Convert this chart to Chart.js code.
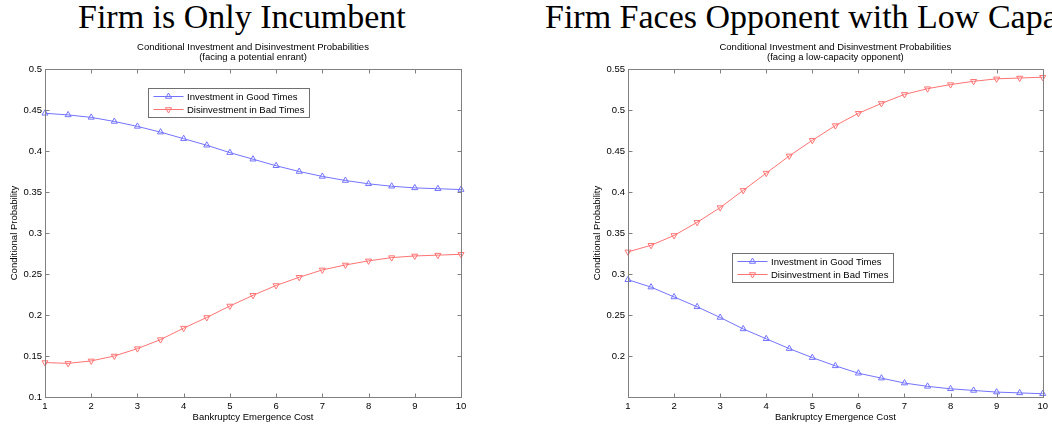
<!DOCTYPE html>
<html><head><meta charset="utf-8">
<script src="https://cdn.jsdelivr.net/npm/chart.js@4.4.1/dist/chart.umd.min.js"></script>
<style>
html,body{margin:0;padding:0;background:#fff;width:1052px;height:426px;overflow:hidden;position:relative}
.big{position:absolute;top:0;font-family:"Liberation Serif","Times New Roman",serif;font-size:34px;line-height:34px;white-space:nowrap;color:#000}
.wrap{position:absolute;top:0;height:426px}
canvas{display:block}
</style></head><body>
<div class="big" id="t1" style="left:78px"></div>
<div class="big" id="t2" style="left:545px"></div>
<div class="wrap" style="left:0;width:526px"><canvas id="c1" width="526" height="426"></canvas></div>
<div class="wrap" style="left:583px;width:469px"><canvas id="c2" width="469" height="426"></canvas></div>
<script>
// ---- data ----
const panelTitles = ['Firm is Only Incumbent', 'Firm Faces Opponent with Low Capacity'];
const chartTitle = 'Conditional Investment and Disinvestment Probabilities';
const subtitles = ['(facing a potential enrant)', '(facing a low-capacity opponent)'];
const seriesLabels = ['Investment in Good Times', 'Disinvestment in Bad Times'];
const xTitle = 'Bankruptcy Emergence Cost';
const yTitle = 'Conditional Probability';
const costs = [1, 1.5, 2, 2.5, 3, 3.5, 4, 4.5, 5, 5.5, 6, 6.5, 7, 7.5, 8, 8.5, 9, 9.5, 10];
const leftInvest = [0.446, 0.444, 0.441, 0.436, 0.430, 0.423, 0.415, 0.407, 0.398, 0.390, 0.382, 0.375, 0.369, 0.364, 0.360, 0.357, 0.355, 0.354, 0.353];
const leftDisinvest = [0.142, 0.141, 0.144, 0.150, 0.159, 0.170, 0.184, 0.197, 0.211, 0.224, 0.236, 0.246, 0.255, 0.261, 0.266, 0.270, 0.272, 0.273, 0.274];
const rightInvest = [0.293, 0.284, 0.272, 0.260, 0.247, 0.233, 0.221, 0.209, 0.198, 0.188, 0.179, 0.173, 0.167, 0.163, 0.160, 0.158, 0.156, 0.155, 0.154];
const rightDisinvest = [0.327, 0.335, 0.347, 0.363, 0.381, 0.402, 0.423, 0.444, 0.463, 0.481, 0.496, 0.508, 0.519, 0.526, 0.531, 0.535, 0.538, 0.539, 0.540];
const xTicks = [1, 2, 3, 4, 5, 6, 7, 8, 9, 10];
const leftYTicks = [0.1, 0.15, 0.2, 0.25, 0.3, 0.35, 0.4, 0.45, 0.5];
const rightYTicks = [0.2, 0.25, 0.3, 0.35, 0.4, 0.45, 0.5, 0.55];

document.getElementById('t1').textContent = panelTitles[0];
document.getElementById('t2').textContent = panelTitles[1];

const FONT = '"Liberation Sans", Arial, sans-serif';
const FS = 9.5;
const BLUE = '#7373ff';
const RED = '#ff7373';
const AXIS = '#808080';

function tri(ctx, x, y, r, rot) {
  let rad = rot * Math.PI / 180;
  ctx.beginPath();
  ctx.moveTo(x + Math.sin(rad) * r, y - Math.cos(rad) * r);
  rad += 2 * Math.PI / 3;
  ctx.lineTo(x + Math.sin(rad) * r, y - Math.cos(rad) * r);
  rad += 2 * Math.PI / 3;
  ctx.lineTo(x + Math.sin(rad) * r, y - Math.cos(rad) * r);
  ctx.closePath();
  ctx.stroke();
}

const matlabPlugin = {
  id: 'matlab',
  afterDatasetsDraw(chart) {
    const {ctx, chartArea: a, scales: {x, y}} = chart;
    ctx.save();
    ctx.strokeStyle = AXIS;
    ctx.lineWidth = 1;
    const L = Math.round(a.left) + 0.5, R = Math.round(a.right) + 0.5;
    const T = Math.round(a.top) + 0.5, B = Math.round(a.bottom) + 0.5;
    ctx.strokeRect(L, T, R - L, B - T);
    const tl = 4;
    ctx.beginPath();
    x.ticks.forEach(t => {
      const px = Math.round(x.getPixelForValue(t.value)) + 0.5;
      ctx.moveTo(px, B); ctx.lineTo(px, B - tl);
      ctx.moveTo(px, T); ctx.lineTo(px, T + tl);
    });
    y.ticks.forEach(t => {
      const py = Math.round(y.getPixelForValue(t.value)) + 0.5;
      ctx.moveTo(L, py); ctx.lineTo(L + tl, py);
      ctx.moveTo(R, py); ctx.lineTo(R - tl, py);
    });
    ctx.stroke();
    ctx.restore();
  },
  afterDraw(chart, args, opts) {
    const {ctx, chartArea: a} = chart;
    ctx.save();
    // small titles
    ctx.fillStyle = '#000';
    ctx.font = FS + 'px ' + FONT;
    ctx.textAlign = 'center';
    ctx.textBaseline = 'middle';
    const cx = (a.left + a.right) / 2;
    ctx.fillText(chartTitle, cx, a.top - 22);
    ctx.fillText(opts.subtitle, cx, a.top - 12);
    // legend inside axes
    const bx = Math.round(a.left + opts.lx) + 0.5, by = Math.round(a.top + opts.ly) + 0.5;
    const bw = 161, bh = 29;
    ctx.fillStyle = '#fff';
    ctx.fillRect(bx, by, bw, bh);
    ctx.strokeStyle = '#707070';
    ctx.lineWidth = 1;
    ctx.strokeRect(bx, by, bw, bh);
    chart.data.datasets.forEach((ds, i) => {
      const ry = by + 8 + i * 13;
      ctx.strokeStyle = ds.borderColor;
      ctx.beginPath();
      ctx.moveTo(bx + 5, ry); ctx.lineTo(bx + 35, ry);
      ctx.stroke();
      tri(ctx, bx + 20, ry, 3.5, ds.pointRotation || 0);
      ctx.fillStyle = '#000';
      ctx.textAlign = 'left';
      ctx.textBaseline = 'middle';
      ctx.fillText(ds.label, bx + 38.5, ry + 0.5);
    });
    ctx.restore();
  }
};

function makeChart(id, inv, dis, yMin, yMax, yTicks, subtitle, lx, ly, padRight) {
  const ds = (label, vals, color, rot) => ({
    label, data: costs.map((c, i) => ({x: c, y: vals[i]})),
    borderColor: color, backgroundColor: 'rgba(0,0,0,0)',
    pointStyle: 'triangle', pointRadius: 3.5, pointBorderWidth: 1,
    pointBorderColor: color, pointBackgroundColor: 'rgba(0,0,0,0)',
    pointRotation: rot, borderWidth: 1, tension: 0, clip: false
  });
  return new Chart(document.getElementById(id), {
    type: 'line',
    data: {datasets: [ds(seriesLabels[0], inv, BLUE, 0), ds(seriesLabels[1], dis, RED, 180)]},
    options: {
      responsive: false, animation: false, devicePixelRatio: 1,
      layout: {padding: {top: 69, right: padRight, left: 0, bottom: 0}},
      plugins: {legend: {display: false}, title: {display: false}, tooltip: {enabled: false},
        matlab: {subtitle, lx, ly}},
      scales: {
        x: {
          type: 'linear', min: 1, max: 10,
          afterBuildTicks: s => { s.ticks = xTicks.map(v => ({value: v})); },
          afterFit: s => { s.height = 29; },
          grid: {display: false, drawTicks: false}, border: {display: false},
          ticks: {padding: 4, color: '#000', font: {family: FONT, size: FS}, maxRotation: 0, autoSkip: false,
            callback: v => String(v)},
          title: {display: true, text: xTitle, color: '#000', font: {family: FONT, size: FS}, padding: {top: 0, bottom: 3}}
        },
        y: {
          type: 'linear', min: yMin, max: yMax,
          afterBuildTicks: s => { s.ticks = yTicks.map(v => ({value: v})); },
          afterFit: s => { s.width = 45; },
          grid: {display: false, drawTicks: false}, border: {display: false},
          ticks: {padding: 3, color: '#000', font: {family: FONT, size: FS}, autoSkip: false,
            callback: v => String(Number(v.toFixed(2)))},
          title: {display: true, text: yTitle, color: '#000', font: {family: FONT, size: FS}, padding: {top: 9, bottom: 0}}
        }
      }
    },
    plugins: [matlabPlugin]
  });
}

makeChart('c1', leftInvest, leftDisinvest, 0.1, 0.5, leftYTicks, subtitles[0], 102.5, 18.5, 65);
makeChart('c2', rightInvest, rightDisinvest, 0.15, 0.55, rightYTicks, subtitles[1], 103.5, 183.5, 6);
</script>
</body></html>
